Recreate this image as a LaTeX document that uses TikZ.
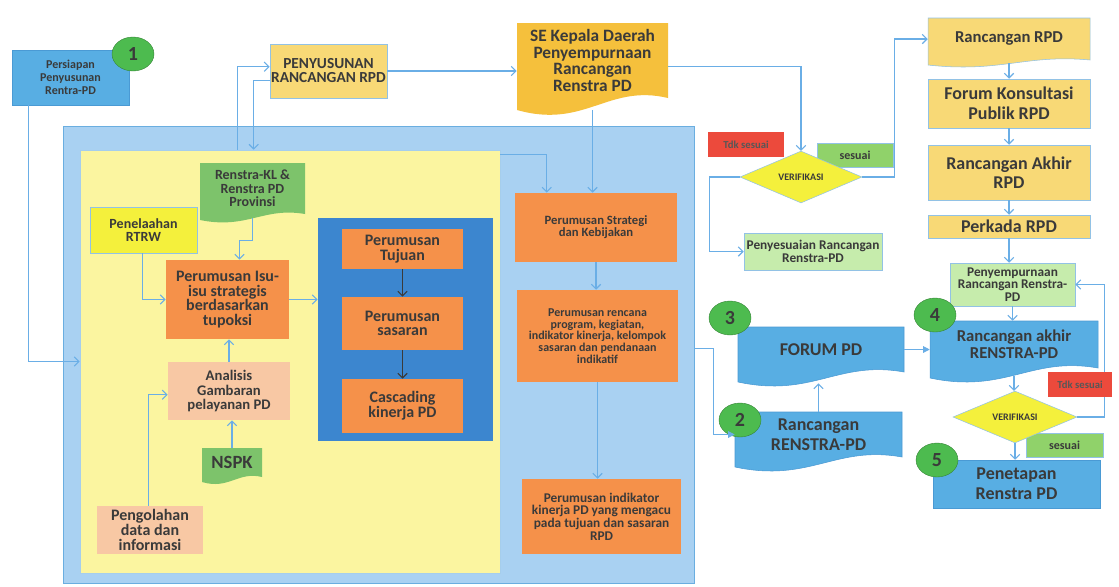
\documentclass[tikz,border=0pt]{standalone}
\usepackage{fontspec}
\setmainfont{Carlito}
\usetikzlibrary{shapes.geometric,arrows.meta,calc}
\definecolor{cblue}{HTML}{58AEE3}
\definecolor{cblueD}{HTML}{4A9AD4}
\definecolor{couter}{HTML}{A9D1F2}
\definecolor{couterD}{HTML}{6AAEE0}
\definecolor{cinner}{HTML}{FBF5A0}
\definecolor{cdark}{HTML}{3C86CF}
\definecolor{corange}{HTML}{F5914A}
\definecolor{csalmon}{HTML}{F8C8A4}
\definecolor{crpd}{HTML}{F8D976}
\definecolor{cse}{HTML}{F5C03C}
\definecolor{cbright}{HTML}{F4F03C}
\definecolor{cgreen}{HTML}{7DC36B}
\definecolor{ccircle}{HTML}{4DBB4F}
\definecolor{clight}{HTML}{C6ECAC}
\definecolor{cses}{HTML}{90D26A}
\definecolor{cred}{HTML}{EC4A3C}
\definecolor{ctxt}{HTML}{3A3A3A}
\definecolor{cline}{HTML}{6AAEE6}
\newcommand{\bx}[7][]{\node[base,#1,minimum width={(#4-#2)*0.75pt},minimum height={(#5-#3)*0.75pt}] (#6) at ({(#2+#4)/2},{(#3+#5)/2}) {#7};}
\newcommand{\dc}[8][]{\path[#1] (#2,#3) -- (#4,#3) -- (#4,{#5-#6}) .. controls ({#4-0.4*(#4-#2)},{#5-2.2*#6}) and ({#2+0.45*(#4-#2)},{#5+1.6*#6}) .. (#2,#5) -- cycle;
\node[base,#1,draw=none,fill=none,minimum width={(#4-#2)*0.75pt},minimum height={(#5-#6-#3)*0.75pt}] (#7) at ({(#2+#4)/2},{(#3+#5-#6)/2}) {#8};}
\begin{document}
\begin{tikzpicture}[x=0.75pt,y=-0.75pt,
  base/.style={rectangle,inner sep=1pt,align=center,text=ctxt},
  fs/.style 2 args={font=\bfseries\fontsize{#1}{#2}\selectfont},
  bluebox/.style={fill=cblue,draw=cblueD,line width=0.4pt},
  rpdbox/.style={fill=crpd,draw=cblueD!60,line width=0.4pt},
  sebox/.style={fill=cse,draw=none},
  orangebox/.style={fill=corange,draw=none},
  salmonbox/.style={fill=csalmon,draw=none},
  greendoc/.style={fill=cgreen,draw=none},
  brightbox/.style={fill=cbright,draw=cblueD!60,line width=0.4pt},
  lightbox/.style={fill=clight,draw=cblueD!60,line width=0.4pt},
  sesbox/.style={fill=cses,draw=cblueD!60,line width=0.4pt},
  redbox/.style={fill=cred,draw=none,text=ctxt!85},
  verif/.style={diamond,fill=cbright,draw=cblueD!60,line width=0.4pt,inner sep=0pt,text=ctxt,font=\bfseries\fontsize{7.5}{8}\selectfont},
  num/.style={ellipse,fill=ccircle,draw=ccircle!70!black,line width=0.3pt,minimum width=31.5pt,minimum height=25.5pt,inner sep=0pt,text=ctxt,font=\bfseries\fontsize{15}{15}\selectfont},
  conn/.style={draw=cline,line width=0.8pt,-{Straight Barb[length=3.5pt,width=7pt]}},
  connF/.style={draw=cline,line width=0.8pt,-{Triangle[length=5pt,width=5pt]}},
  darr/.style={draw=ctxt,line width=0.9pt,-{Straight Barb[length=3.5pt,width=7pt]}},
]
\useasboundingbox[fill=white] (0,0) rectangle (1119,586);
% containers
\bx[fill=couter,draw=couterD,line width=0.6pt]{63}{126}{694}{583}{outer}{}
\bx[fill=cinner,draw=couterD!60,line width=0.4pt]{80}{150}{500}{573}{inner}{}
\bx[fill=cdark,draw=none]{318}{218}{493}{441}{dblue}{}
% left side
\bx[bluebox,fs={9}{9.75}]{12}{50}{129}{105}{persiapan}{Persiapan\\Penyusunan\\Rentra-PD}
\node[num] (c1) at (133,54) {1};
\bx[rpdbox,fs={11.5}{10.5}]{270}{44}{387}{98}{penyusunan}{PENYUSUNAN\\RANCANGAN RPD}
\dc[sebox,fs={13}{12.5}]{517}{23}{668}{110}{12}{se}{SE Kepala Daerah\\Penyempurnaan\\Rancangan\\Renstra PD}
\dc[greendoc,fs={10.5}{10}]{200}{163}{305}{220}{6}{renstrakl}{Renstra-KL \&\\Renstra PD\\Provinsi}
\bx[brightbox,fs={10.5}{10}]{90}{207}{197}{253}{penelaahan}{Penelaahan\\RTRW}
\bx[orangebox,fs={12}{11}]{166}{260}{289}{339}{isu}{Perumusan Isu-\\isu strategis\\berdasarkan\\tupoksi}
\bx[salmonbox,fs={11}{10.7}]{168}{362}{290}{420}{analisis}{Analisis\\Gambaran\\pelayanan PD}
\dc[greendoc,fs={14}{14}]{202}{448}{262}{482}{5}{nspk}{NSPK}
\bx[salmonbox,fs={12}{11.3}]{97}{506}{203}{554}{pengolahan}{Pengolahan\\data dan\\informasi}
\bx[orangebox,fs={12}{11}]{342}{229}{463}{269}{tujuan}{Perumusan\\Tujuan}
\bx[orangebox,fs={12}{11}]{342}{297}{463}{350}{sasaran}{Perumusan\\sasaran}
\bx[orangebox,fs={12}{11}]{342}{379}{463}{433}{cascading}{Cascading\\kinerja PD}
\bx[orangebox,fs={9.5}{9}]{515}{193}{677}{262}{strategi}{Perumusan Strategi\\dan Kebijakan}
\bx[orangebox,fs={9}{8.7}]{517}{290}{678}{382}{rencana}{Perumusan rencana\\program, kegiatan,\\indikator kinerja, kelompok\\sasaran dan pendanaan\\indikatif}
\bx[orangebox,fs={10}{9.5}]{522}{479}{681}{554}{indikator}{Perumusan indikator\\kinerja PD yang mengacu\\pada tujuan dan sasaran\\RPD}
% verification top
\bx[redbox,fs={8}{8}]{708}{132}{784}{157}{tdk1}{Tdk sesuai}
\bx[sesbox,fs={9}{9}]{817}{143}{893}{167}{ses1}{sesuai}
\node[verif,minimum width=91.5pt,minimum height=35.25pt] (ver1) at (801,177) {VERIFIKASI};
\bx[lightbox,fs={10}{10}]{744}{233}{882}{270}{penyesuaian}{Penyesuaian Rancangan\\Renstra-PD}
% right column
\dc[rpdbox,fs={12.5}{13}]{928}{18}{1090}{65}{5}{rrpd}{Rancangan RPD}
\bx[rpdbox,fs={13.5}{15}]{928}{79}{1090}{128}{forumk}{Forum Konsultasi\\Publik RPD}
\bx[rpdbox,fs={13.5}{14}]{928}{145}{1090}{200}{rakhir}{Rancangan Akhir\\RPD}
\bx[rpdbox,fs={13.5}{14}]{928}{215}{1090}{238}{perkada}{Perkada RPD}
\bx[lightbox,fs={10}{9.5}]{950}{263}{1075}{306}{penyempurnaan}{Penyempurnaan\\Rancangan Renstra-\\PD}
\dc[bluebox,fs={12.5}{12.5}]{930}{321}{1098}{378}{10}{rakhirren}{Rancangan akhir\\RENSTRA-PD}
\node[num] (c4) at (935,315) {4};
\dc[bluebox,fs={13.5}{15}]{738}{327}{904}{382}{10}{forum}{FORUM PD}
\node[num] (c3) at (730,318) {3};
\dc[bluebox,fs={13.5}{15}]{735}{412}{902}{467}{10}{rrenstra}{Rancangan\\RENSTRA-PD}
\node[num] (c2) at (740,420) {2};
\bx[sesbox,fs={9}{9}]{1026}{433}{1103}{457}{ses2}{sesuai}
\node[verif,minimum width=93pt,minimum height=36.75pt] (ver2) at (1015,417) {VERIFIKASI};
\bx[bluebox,fs={13.5}{15}]{933}{460}{1100}{508}{penetapan}{Penetapan\\Renstra PD}
\node[num] (c5) at (937,460) {5};
% connectors
\draw[conn] ($(persiapan.south west)+(17,0)$) |- (inner.west);
\draw[conn] ($(inner.north west)+(158,0)$) |- ($(penyusunan.north west)+(0,23)$);
\draw[conn] ($(penyusunan.south west)+(0,-18)$) -| ($(inner.north west)+(174,0)$);
\draw[conn] (penyusunan.east) -- (penyusunan.east -| se.west);
\draw[conn] ($(se.east)+(0,6)$) -| (ver1.north);
\draw[conn] ($(se.south)+(0,12)$) -- (se.south |- strategi.north);
\draw[conn] ($(inner.north east)+(0,5)$) -| ($(strategi.north west)+(32,0)$);
\draw[conn] ($(renstrakl.south)+(0,4)$) -- ++(0,22) -| ($(isu.north)+(12,0)$);
\draw[conn] ($(penelaahan.south west)+(53,0)$) |- (isu.west);
\draw[conn] (isu.east) -- (isu.east -| dblue.west);
\draw[conn] (analisis.north) -- (analisis.north |- isu.south);
\draw[conn] (nspk.north) -- (nspk.north |- analisis.south);
\draw[conn] ($(pengolahan.north west)+(52,0)$) |- ($(analisis.north west)+(0,33)$);
\draw[darr] (tujuan.south) -- (sasaran.north);
\draw[darr] (sasaran.south) -- (cascading.north);
\draw[conn] (strategi.south) -- (strategi.south |- rencana.north);
\draw[conn] (rencana.south) -- (rencana.south |- indikator.north);
\draw[connF] ($(outer.east)+(0,-6)$) -- ++(19,0) |- (rrenstra.west);
\draw[conn] (rrenstra.north) -- ($(rrenstra.north |- forum.south)+(0,11)$);
\draw[connF] (forum.east) -- (forum.east -| rakhirren.west);
\draw[conn] (ver1.west) -- ++(-30,0) |- (penyesuaian.west);
\draw[conn] (ver1.east) -- ++(32,0) |- (rrpd.west);
\draw[conn] ($(rrpd.south)+(0,3)$) -- (forumk.north);
\draw[conn] (forumk.south) -- (rakhir.north);
\draw[conn] (rakhir.south) -- (perkada.north);
\draw[conn] (perkada.south) -- (perkada.south |- penyempurnaan.north);
\draw[conn] (penyempurnaan.south) -- (penyempurnaan.south |- rakhirren.north);
\draw[conn] ($(rakhirren.south)+(0,8)$) -- (rakhirren.south |- ver2.north);
\draw[conn] (ver2.east) -- ++(27,0) |- (penyempurnaan.east);
\draw[conn] (ver2.south) -- (ver2.south |- penetapan.north);
% label drawn over its connector
\bx[redbox,fs={8}{8}]{1048}{372}{1112}{397}{tdk2}{Tdk sesuai}
\end{tikzpicture}
\end{document}
